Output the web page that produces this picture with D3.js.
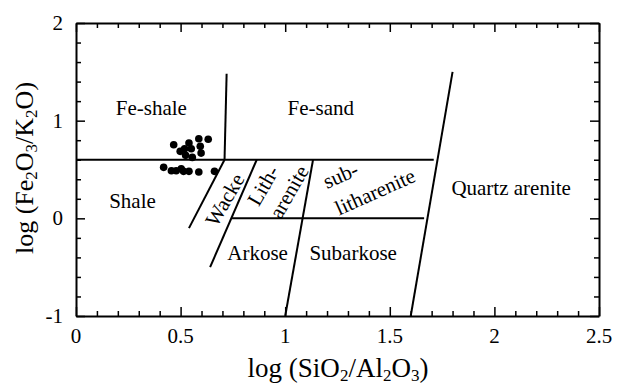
<!DOCTYPE html>
<html>
<head>
<meta charset="utf-8">
<script src="https://cdnjs.cloudflare.com/ajax/libs/d3/7.8.5/d3.min.js"></script>
<style>
  html, body { margin: 0; padding: 0; background: #fff; }
  svg text { font-family: "Liberation Serif", "Times New Roman", serif; fill: #000; }
</style>
</head>
<body>
<svg id="chart" width="617" height="388"></svg>
<script>
// Sample compositions: log(SiO2/Al2O3) and log(Fe2O3/K2O)
const sampleX = [0.467, 0.540, 0.587, 0.632, 0.498, 0.519, 0.551, 0.594, 0.598, 0.524, 0.556,
                 0.419, 0.456, 0.479, 0.503, 0.514, 0.540, 0.587, 0.662];
const sampleY = [0.753, 0.771, 0.815, 0.809, 0.686, 0.712, 0.712, 0.737, 0.668, 0.645, 0.624,
                 0.522, 0.487, 0.487, 0.508, 0.481, 0.481, 0.474, 0.481];

// Field boundaries of the classification diagram, as [x1, y1, x2, y2]
const boundaries = [
  [0.00, 0.60, 1.71, 0.60],   // iron-rich / iron-poor split
  [0.746, 0.00, 1.664, 0.00], // arkose / litharenite split
  [0.71, 0.60, 0.72, 1.48],   // Fe-shale | Fe-sand
  [0.71, 0.60, 0.54, -0.10],  // shale | wacke
  [0.864, 0.60, 0.641, -0.50],// wacke | litharenite, arkose
  [1.133, 0.60, 1.00, -1.00], // litharenite | sublitharenite, arkose | subarkose
  [1.80, 1.50, 1.60, -1.00]   // quartz arenite boundary
];

// Field names: text, x, y (data units), rotation in degrees
const fieldNames = ["Fe-shale", "Fe-sand", "Shale", "Wacke", "Lith-", "arenite", "sub-", "litharenite", "Arkose", "Subarkose", "Quartz arenite"];
const fieldX = [0.36, 1.17, 0.27, 0.712, 0.895, 1.018, 1.265, 1.43, 0.868, 1.325, 2.08];
const fieldY = [1.13, 1.13, 0.18, 0.19, 0.335, 0.27, 0.44, 0.27, -0.35, -0.36, 0.31];
const fieldRot = [0, 0, 0, -60, -60, -60, -24, -24, 0, 0, 0];

const xTicks = [0, 0.5, 1, 1.5, 2, 2.5];
const xTickLabels = ["0", "0.5", "1", "1.5", "2", "2.5"];
const yTicks = [-1, 0, 1, 2];
const yTickLabels = ["-1", "0", "1", "2"];

const svg = d3.select("#chart");
const x = d3.scaleLinear().domain([0, 2.5]).range([76, 599]);
const y = d3.scaleLinear().domain([-1, 2]).range([316, 23]);

const xMinor = d3.range(0, 2.5001, 0.1).map(v => +v.toFixed(2));
const yMinor = d3.range(-1, 2.0001, 0.2).map(v => +v.toFixed(2));
const isMajorX = v => xTicks.some(t => Math.abs(t - v) < 1e-6);
const isMajorY = v => yTicks.some(t => Math.abs(t - v) < 1e-6);

// Axes with inward ticks; labels drawn separately
const gB = svg.append("g").attr("transform", `translate(0,${y(-1)})`)
  .call(d3.axisBottom(x).tickValues(xMinor).tickSizeInner(0).tickSizeOuter(0).tickFormat(""));
const gT = svg.append("g").attr("transform", `translate(0,${y(2)})`)
  .call(d3.axisTop(x).tickValues(xMinor).tickSizeInner(0).tickSizeOuter(0).tickFormat(""));
const gL = svg.append("g").attr("transform", `translate(${x(0)},0)`)
  .call(d3.axisLeft(y).tickValues(yMinor).tickSizeInner(0).tickSizeOuter(0).tickFormat(""));
const gR = svg.append("g").attr("transform", `translate(${x(2.5)},0)`)
  .call(d3.axisRight(y).tickValues(yMinor).tickSizeInner(0).tickSizeOuter(0).tickFormat(""));
[gB, gT, gL, gR].forEach(g => g.select(".domain").attr("stroke", "#000").attr("stroke-width", 2));

gB.selectAll(".tick line").attr("y2", d => isMajorX(d) ? -9 : -5).attr("stroke", "#000").attr("stroke-width", 1.5);
gT.selectAll(".tick line").attr("y2", d => isMajorX(d) ? 9 : 5).attr("stroke", "#000").attr("stroke-width", 1.5);
gL.selectAll(".tick line").attr("x2", d => isMajorY(d) ? 9 : 5).attr("stroke", "#000").attr("stroke-width", 1.5);
gR.selectAll(".tick line").attr("x2", d => isMajorY(d) ? -9 : -5).attr("stroke", "#000").attr("stroke-width", 1.5);

// Tick labels
svg.append("g").selectAll("text").data(xTicks).join("text")
  .attr("x", d => x(d)).attr("y", y(-1) + 27)
  .attr("text-anchor", "middle").attr("font-size", 21)
  .text((d, i) => xTickLabels[i]);
svg.append("g").selectAll("text").data(yTicks).join("text")
  .attr("x", x(0) - 13).attr("y", d => y(d) + 7)
  .attr("text-anchor", "end").attr("font-size", 21)
  .text((d, i) => yTickLabels[i]);

// Field boundaries
svg.append("g").selectAll("line").data(boundaries).join("line")
  .attr("x1", d => x(d[0])).attr("y1", d => y(d[1]))
  .attr("x2", d => x(d[2])).attr("y2", d => y(d[3]))
  .attr("stroke", "#000").attr("stroke-width", 2);

// Field names
svg.append("g").selectAll("text").data(fieldNames).join("text")
  .attr("transform", (d, i) => `translate(${x(fieldX[i])},${y(fieldY[i])}) rotate(${fieldRot[i]})`)
  .attr("text-anchor", "middle").attr("dominant-baseline", "central")
  .attr("font-size", 21)
  .text(d => d);

// Samples
svg.append("g").selectAll("circle").data(sampleX).join("circle")
  .attr("cx", d => x(d)).attr("cy", (d, i) => y(sampleY[i]))
  .attr("r", 3.8).attr("fill", "#000");

// Axis titles with subscripts
function titleParts(sel, parts) {
  parts.forEach(p => {
    const t = sel.append("tspan").text(p[0]);
    if (p[1]) t.attr("font-size", 17).attr("dy", 4);
    else if (p[2]) t.attr("dy", -4);
  });
}
const xt = svg.append("text").attr("x", 338).attr("y", 377)
  .attr("text-anchor", "middle").attr("font-size", 27);
titleParts(xt, [["log (SiO"], ["2", true], ["/Al", false, true], ["2", true], ["O", false, true], ["3", true], [")", false, true]]);

const yt = svg.append("text").attr("transform", `translate(33,168) rotate(-90)`)
  .attr("text-anchor", "middle").attr("font-size", 26);
titleParts(yt, [["log (Fe"], ["2", true], ["O", false, true], ["3", true], ["/K", false, true], ["2", true], ["O)", false, true]]);
</script>
</body>
</html>
